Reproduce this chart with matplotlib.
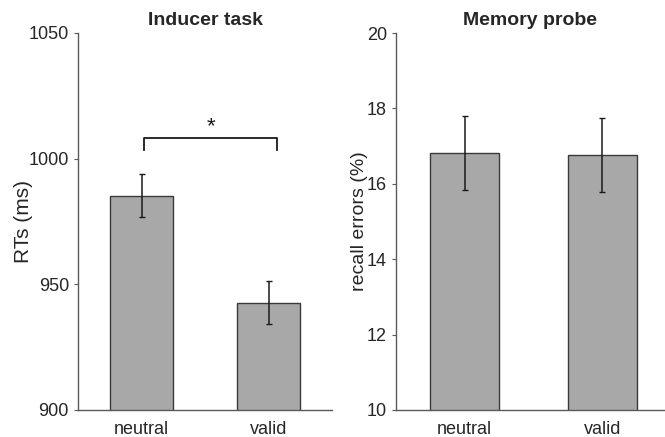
import matplotlib

matplotlib.use("Agg")
import matplotlib.pyplot as plt

# data
conditions = ["neutral", "valid"]
rt_means = [985.2, 942.7]
rt_lower = [976.6, 934.2]
rt_upper = [994.0, 951.4]
err_means = [16.82, 16.76]
err_lower = [15.84, 15.78]
err_upper = [17.80, 17.75]

plt.rcParams["font.family"] = ["Liberation Sans", "DejaVu Sans"]

W, H = 665, 437
fig = plt.figure(figsize=(W / 100, H / 100), dpi=100)

bar_color = "#a8a8a8"
edge_color = "#3a3a3a"
axis_color = "#5a5a5a"
text_color = "#262626"


def style_axes(ax):
    for side in ("top", "right"):
        ax.spines[side].set_visible(False)
    for side in ("left", "bottom"):
        ax.spines[side].set_color(axis_color)
        ax.spines[side].set_linewidth(1.0)
    ax.tick_params(axis="y", direction="out", length=3, width=0.8, colors=axis_color,
                   labelcolor=text_color, labelsize=13)
    ax.tick_params(axis="x", length=0, labelcolor=text_color, labelsize=13, pad=8)


def draw_bars(ax, means, lower, upper):
    x = list(range(1, len(means) + 1))
    yerr = [[m - lo for m, lo in zip(means, lower)], [hi - m for m, hi in zip(means, upper)]]
    ax.bar(x, means, width=0.5, color=bar_color, edgecolor=edge_color, linewidth=1.0, zorder=2)
    ax.errorbar(x, means, yerr=yerr, fmt="none", ecolor="#1a1a1a", elinewidth=1.1,
                capsize=2.5, capthick=1.0, zorder=3)
    ax.set_xticks(x)
    ax.set_xticklabels(conditions)
    return x


# left panel
ax1 = fig.add_axes([78 / W, 27 / H, 254 / W, 377 / H])
draw_bars(ax1, rt_means, rt_lower, rt_upper)
ax1.set_xlim(0.5, 2.5)
ax1.set_ylim(900, 1050)
ax1.set_yticks([900, 950, 1000, 1050])
ax1.set_ylabel("RTs (ms)", fontsize=15, color=text_color, labelpad=-3)
ax1.set_title("Inducer task", fontsize=14, fontweight="bold", color=text_color, pad=6)
style_axes(ax1)

# significance bracket
bx0, bx1 = 1.02, 2.07
ax1.plot([bx0, bx0, bx1, bx1], [1003.5, 1008.2, 1008.2, 1003.5], color="#1a1a1a",
         linewidth=1.3, clip_on=False)
ax1.text((bx0 + bx1) / 2, 1008.6, "*", ha="center", va="bottom", fontsize=16,
         color="#1a1a1a")

# right panel
ax2 = fig.add_axes([396 / W, 27 / H, 268 / W, 377 / H])
draw_bars(ax2, err_means, err_lower, err_upper)
ax2.set_xlim(0.5, 0.5 + 268 / 137.5)
ax2.set_ylim(10, 20)
ax2.set_yticks([10, 12, 14, 16, 18, 20])
ax2.set_ylabel("recall errors (%)", fontsize=14, color=text_color, labelpad=-1)
ax2.set_title("Memory probe", fontsize=14, fontweight="bold", color=text_color, pad=6)
style_axes(ax2)

fig.savefig("out.png", dpi=100)
plt.close(fig)
